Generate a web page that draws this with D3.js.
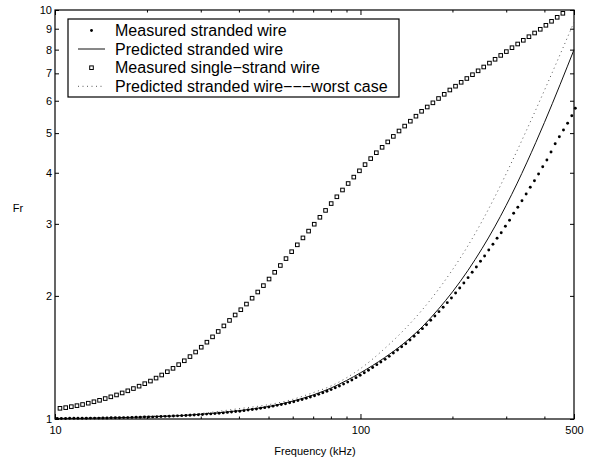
<!DOCTYPE html>
<meta charset="utf-8">
<style>
  body { margin: 0; background: #fff; }
  svg { font-family: "Liberation Sans", Arial, Helvetica, sans-serif; }
  .axis path { display: none; }
  .axis line { stroke: #000; }
  .axis text { font-size: 11px; fill: #000; }
</style>
<body>
<div id="chart"></div>
<script src="https://d3js.org/d3.v7.min.js"></script>
<script>
// measured stranded wire (dots)
var freqStranded = [10.17,10.49,10.83,11.17,11.53,11.89,12.27,12.66,13.06,13.48,
  13.91,14.35,14.80,15.27,15.76,16.26,16.78,17.31,17.86,18.43,
  19.01,19.62,20.24,20.88,21.54,22.23,22.94,23.66,24.42,25.19,
  25.99,26.82,27.67,28.55,29.46,30.39,31.36,32.35,33.38,34.44,
  35.54,36.67,37.83,39.03,40.27,41.55,42.87,44.24,45.64,47.09,
  48.59,50.13,51.72,53.37,55.06,56.81,58.62,60.48,62.40,64.38,
  66.43,68.54,70.72,72.97,75.28,77.68,80.14,82.69,85.32,88.03,
  90.82,93.71,96.69,99.76,102.9,106.2,109.6,113.1,116.6,120.4,
  124.2,128.1,132.2,136.4,140.7,145.2,149.8,154.6,159.5,164.5,
  169.8,175.2,180.7,186.5,192.4,198.5,204.8,211.3,218.0,225.0,
  232.1,239.5,247.1,254.9,263.0,271.4,280.0,288.9,298.1,307.6,
  317.3,327.4,337.8,348.6,359.6,371.1,382.8,395.0,407.6,420.5,
  433.9,447.7,461.9,476.5,491.7,505.0];
var frStranded = [1.003,1.003,1.003,1.004,1.004,1.004,1.004,1.004,1.005,1.005,
  1.005,1.006,1.006,1.007,1.007,1.007,1.008,1.008,1.009,1.010,
  1.010,1.011,1.012,1.012,1.013,1.014,1.015,1.016,1.017,1.018,
  1.019,1.020,1.021,1.023,1.024,1.026,1.028,1.029,1.031,1.033,
  1.035,1.038,1.040,1.043,1.045,1.048,1.052,1.055,1.058,1.062,
  1.066,1.070,1.075,1.080,1.085,1.090,1.096,1.102,1.109,1.116,
  1.124,1.132,1.140,1.149,1.159,1.169,1.180,1.192,1.204,1.217,
  1.231,1.246,1.262,1.279,1.297,1.316,1.336,1.358,1.378,1.399,
  1.423,1.450,1.475,1.502,1.528,1.560,1.593,1.626,1.663,1.700,
  1.743,1.786,1.830,1.876,1.925,1.976,2.033,2.091,2.150,2.216,
  2.284,2.353,2.430,2.503,2.589,2.674,2.766,2.854,2.959,3.061,
  3.184,3.293,3.418,3.549,3.686,3.825,3.972,4.139,4.298,4.496,
  4.711,4.900,5.089,5.284,5.515,5.750];

// measured single-strand wire (squares)
var freqSingle = [10.38,10.84,11.31,11.80,12.31,12.85,13.41,13.99,14.60,15.23,
  15.90,16.59,17.31,18.06,18.85,19.67,20.53,21.42,22.35,23.32,
  24.34,25.40,26.50,27.66,28.86,30.11,31.42,32.79,34.22,35.71,
  37.26,38.88,40.57,42.34,44.18,46.10,48.11,50.20,52.38,54.66,
  57.04,59.52,62.11,64.81,67.63,70.57,73.64,76.85,80.19,83.68,
  87.32,91.12,95.08,99.22,103.5,108.0,112.7,117.7,122.8,128.1,
  133.7,139.5,145.6,151.9,158.5,165.4,172.6,180.1,188.0,196.1,
  204.7,213.6,222.9,232.6,242.7,253.2,264.3,275.8,287.8,300.3,
  313.3,327.0,341.2,356.0,371.5,387.7,404.5,422.1,440.5,459.7];
var frSingle = [1.062,1.066,1.072,1.078,1.085,1.093,1.102,1.111,1.122,1.133,
  1.145,1.158,1.172,1.187,1.203,1.220,1.238,1.259,1.281,1.305,
  1.330,1.358,1.388,1.421,1.458,1.498,1.541,1.588,1.637,1.689,
  1.742,1.796,1.850,1.910,1.974,2.044,2.119,2.199,2.284,2.373,
  2.467,2.565,2.666,2.772,2.880,2.994,3.113,3.236,3.363,3.494,
  3.630,3.765,3.903,4.044,4.188,4.332,4.478,4.616,4.759,4.909,
  5.060,5.202,5.347,5.500,5.654,5.792,5.930,6.076,6.221,6.374,
  6.512,6.656,6.800,6.947,7.101,7.255,7.416,7.577,7.744,7.912,
  8.088,8.258,8.432,8.604,8.785,8.971,9.175,9.384,9.597,9.816];

// predicted curves
var freqPredicted = [10,15,20,25,30,40,50,60,70,80,90,100,120,140,160,180,200,225,250,275,300,325,350,375,400,425,450,475,500];
var frPredicted = [1.003,1.006,1.012,1.018,1.027,1.048,1.073,1.106,1.145,1.190,1.242,1.297,1.413,1.540,1.686,1.857,2.045,2.310,2.611,2.949,3.331,3.756,4.229,4.745,5.306,5.914,6.566,7.260,7.995];
var frWorstCase = [1.002,1.008,1.015,1.022,1.032,1.060,1.084,1.117,1.160,1.204,1.261,1.328,1.487,1.662,1.856,2.074,2.316,2.655,3.045,3.487,3.980,4.516,5.092,5.706,6.359,7.050,7.778,8.540,9.343];

// ticks
var xTickLabels = [10, 100, 500];
var xMinorTicks = [20,30,40,50,60,70,80,90,200,300,400];
var yTickLabels = [1,2,3,4,5,6,7,8,9,10];

var legendNames = ["Measured stranded wire", "Predicted stranded wire",
  "Measured single\u2212strand wire", "Predicted stranded wire\u2212\u2212\u2212worst case"];

var margin = {top: 10, right: 24, bottom: 45, left: 55},
  width = 574 - margin.left,
  height = 419 - margin.top;

var svg = d3.select("#chart").append("svg")
  .attr("width", 598)
  .attr("height", 464);

var g = svg.append("g")
  .attr("transform", "translate(" + margin.left + "," + margin.top + ")");

var x = d3.scaleLog().domain([10, 500]).range([0, width]);
var y = d3.scaleLog().domain([1, 10]).range([height, 0]);

// ticks pointing inwards, on all four sides
g.append("g").attr("class", "axis")
  .attr("transform", "translate(0," + height + ")")
  .call(d3.axisBottom(x).tickValues(xTickLabels).tickSize(-5).tickPadding(7).tickFormat(d3.format("d")));
g.append("g").attr("class", "axis")
  .attr("transform", "translate(0," + height + ")")
  .call(d3.axisBottom(x).tickValues(xMinorTicks).tickSize(-2.5).tickFormat(""));
g.append("g").attr("class", "axis")
  .call(d3.axisTop(x).tickValues(xTickLabels).tickSize(-5).tickFormat(""));
g.append("g").attr("class", "axis")
  .call(d3.axisTop(x).tickValues(xMinorTicks).tickSize(-2.5).tickFormat(""));
g.append("g").attr("class", "axis")
  .call(d3.axisLeft(y).tickValues(yTickLabels).tickSize(-4).tickPadding(3).tickFormat(d3.format("d")));
g.append("g").attr("class", "axis")
  .attr("transform", "translate(" + width + ",0)")
  .call(d3.axisRight(y).tickValues(yTickLabels).tickSize(-4).tickFormat(""));

// box
g.append("rect")
  .attr("x", 0).attr("y", 0)
  .attr("width", width).attr("height", height)
  .attr("fill", "none")
  .attr("stroke", "#000")
  .attr("stroke-width", 1.2);

var line = d3.line()
  .x(function(d) { return x(d[0]); })
  .y(function(d) { return y(d[1]); })
  .curve(d3.curveMonotoneX);

var predicted = freqPredicted.map(function(f, i) { return [f, frPredicted[i]]; });
var worst = freqPredicted.map(function(f, i) { return [f, frWorstCase[i]]; });

g.append("path")
  .datum(worst)
  .attr("d", line)
  .attr("fill", "none")
  .attr("stroke", "#555")
  .attr("stroke-width", 1)
  .attr("stroke-dasharray", "1,3.5");

g.append("path")
  .datum(predicted)
  .attr("d", line)
  .attr("fill", "none")
  .attr("stroke", "#111")
  .attr("stroke-width", 1);

// measured single strand: squares
g.selectAll(".sq")
  .data(freqSingle)
  .enter().append("rect")
  .attr("class", "sq")
  .attr("x", function(d) { return x(d) - 1.8; })
  .attr("y", function(d, i) { return y(frSingle[i]) - 1.8; })
  .attr("width", 3.6)
  .attr("height", 3.6)
  .attr("fill", "#fff")
  .attr("stroke", "#000")
  .attr("stroke-width", 1);

// measured stranded: dots
g.selectAll(".dot")
  .data(freqStranded)
  .enter().append("circle")
  .attr("class", "dot")
  .attr("cx", function(d) { return x(d); })
  .attr("cy", function(d, i) { return y(frStranded[i]); })
  .attr("r", 1.45)
  .attr("fill", "#000");

// axis titles
svg.append("text")
  .attr("x", 315)
  .attr("y", 455)
  .attr("text-anchor", "middle")
  .style("font-size", "11px")
  .text("Frequency (kHz)");

svg.append("text")
  .attr("x", 18)
  .attr("y", 212)
  .attr("text-anchor", "middle")
  .style("font-size", "11px")
  .text("Fr");

// legend
var legend = svg.append("g");
legend.append("rect")
  .attr("x", 68).attr("y", 19)
  .attr("width", 331).attr("height", 78)
  .attr("fill", "#fff")
  .attr("stroke", "#000")
  .attr("stroke-width", 1.2);

var rowY = [30.5, 49, 67.7, 86.3];
legendNames.forEach(function(name, i) {
  legend.append("text")
    .attr("x", 115)
    .attr("y", rowY[i] + 5.7)
    .style("font-size", "16px")
    .text(name);
});
legend.append("circle").attr("cx", 91.5).attr("cy", rowY[0]).attr("r", 1.45).attr("fill", "#000");
legend.append("line").attr("x1", 78).attr("x2", 105).attr("y1", rowY[1]).attr("y2", rowY[1])
  .attr("stroke", "#111").attr("stroke-width", 1);
legend.append("rect").attr("x", 91.5 - 1.8).attr("y", rowY[2] - 1.8).attr("width", 3.6).attr("height", 3.6)
  .attr("fill", "#fff").attr("stroke", "#000");
legend.append("line").attr("x1", 78).attr("x2", 105).attr("y1", rowY[3]).attr("y2", rowY[3])
  .attr("stroke", "#555").attr("stroke-width", 1).attr("stroke-dasharray", "1,3.5");
</script>
</body>
